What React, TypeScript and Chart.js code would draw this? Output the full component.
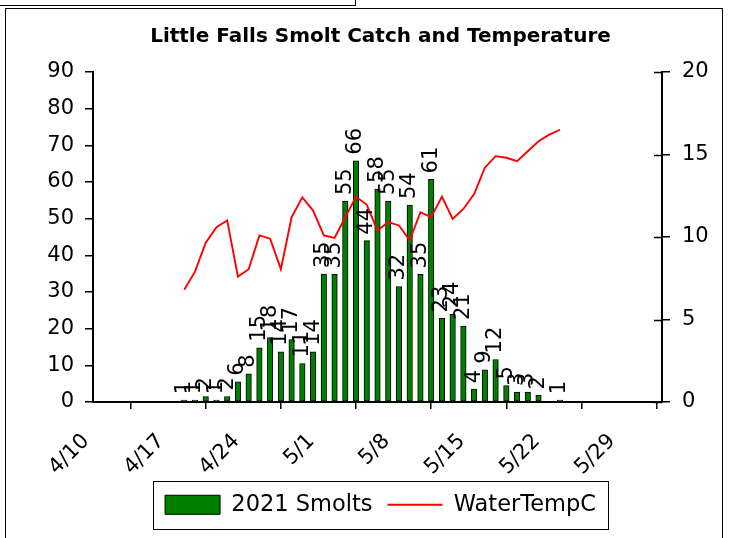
import React, { useEffect, useRef } from "react";
import { Chart, registerables } from "chart.js";

Chart.register(...registerables);

const FONT = "'DejaVu Sans', 'Liberation Sans', Arial, sans-serif";

// ---- data ----
const titleText = "Little Falls Smolt Catch and Temperature";
const axisMinDay = 0; // 4/10
const axisMaxDay = 53; // 6/2
const xTickDays = [0, 7, 14, 21, 28, 35, 42, 49];
const xTickLabels = ["4/10", "4/17", "4/24", "5/1", "5/8", "5/15", "5/22", "5/29"];

// day offsets from 4/10
const smoltDays = [8, 9, 10, 11, 12, 13, 14, 15, 16, 17, 18, 19, 20, 21, 22, 23, 24, 25, 26, 27, 28, 29, 30, 31, 32, 33, 34, 35, 36, 37, 38, 39, 40, 41, 43];
const smoltCounts = [0.5, 0.5, 1.5, 0.5, 1.5, 5.5, 7.7, 14.8, 17.6, 13.7, 17, 10.5, 13.7, 34.9, 34.8, 54.8, 65.8, 44, 58.1, 54.8, 31.5, 53.7, 34.8, 60.7, 22.8, 23.9, 20.7, 3.5, 8.8, 11.6, 4.5, 2.7, 2.7, 1.8, 0.5];

const tempDays = [8, 9, 10, 11, 12, 13, 14, 15, 16, 17, 18, 19, 20, 21, 22, 23, 24, 25, 26, 27, 28, 29, 30, 31, 32, 33, 34, 35, 36, 37, 38, 39, 40, 41, 42, 43];
const waterTempC = [6.8, 7.9, 9.65, 10.6, 11.0, 7.6, 8.05, 10.1, 9.9, 8.05, 11.2, 12.4, 11.6, 10.1, 9.95, 11.2, 12.45, 11.95, 10.4, 10.9, 10.7, 9.8, 11.5, 11.2, 12.45, 11.1, 11.7, 12.6, 14.2, 14.9, 14.8, 14.6, 15.2, 15.8, 16.2, 16.5];

const countAxisMax = 90;
const countAxisStep = 10;
const tempAxisMax = 20;
const tempAxisStep = 5;

// ---- layout ----
const W = 733;
const H = 538;
const PAD_LEFT = 28;
const PLOT_LEFT = 93;
const PLOT_RIGHT = 662;
const PLOT_BOTTOM = 402;
const PAD_BOTTOM = 12;

const barLabelPlugin = {
  id: "barLabels",
  afterDatasetsDraw(chart: any) {
    const meta = chart.getDatasetMeta(0);
    const ctx = chart.ctx;
    ctx.save();
    ctx.font = `21px ${FONT}`;
    ctx.fillStyle = "#000";
    ctx.textAlign = "left";
    ctx.textBaseline = "middle";
    meta.data.forEach((el: any, i: number) => {
      const { x, y } = el.getProps(["x", "y"], true);
      ctx.save();
      ctx.translate(x, y - 6);
      ctx.rotate(-Math.PI / 2);
      ctx.fillText(String(Math.round(smoltCounts[i])), 0, 0);
      ctx.restore();
    });
    ctx.restore();
  },
};

const rightTicksPlugin = {
  id: "rightInnerTicks",
  afterDraw(chart: any) {
    const s = chart.scales.y1;
    const ctx = chart.ctx;
    ctx.save();
    ctx.strokeStyle = "#000";
    ctx.lineWidth = 1.5;
    s.ticks.forEach((t: any) => {
      const y = Math.round(s.getPixelForValue(t.value)) + 0.5;
      ctx.beginPath();
      ctx.moveTo(s.left - 8, y);
      ctx.lineTo(s.left, y);
      ctx.stroke();
    });
    ctx.restore();
  },
};

const legendBoxPlugin = {
  id: "legendBox",
  afterDraw(chart: any) {
    const lg = chart.legend;
    if (!lg || !lg.legendHitBoxes || !lg.legendHitBoxes.length) return;
    const hb = lg.legendHitBoxes;
    const left = Math.min(...hb.map((h: any) => h.left)) - 12;
    const right = Math.max(...hb.map((h: any) => h.left + h.width)) + 12;
    const cy = hb[0].top + hb[0].height / 2;
    const ctx = chart.ctx;
    ctx.save();
    ctx.strokeStyle = "#000";
    ctx.lineWidth = 1;
    ctx.strokeRect(Math.round(left) + 0.5, Math.round(cy - 24) + 0.5, Math.round(right - left), 48);
    ctx.restore();
  },
};

export default function App() {
  const ref = useRef<HTMLCanvasElement | null>(null);

  useEffect(() => {
    const canvas = ref.current;
    if (!canvas) return;
    const tickFont = { family: FONT, size: 21 };
    const chart = new Chart(canvas, {
      type: "bar",
      data: {
        datasets: [
          {
            type: "bar",
            label: "2021 Smolts",
            data: smoltDays.map((d, i) => ({ x: d + 0.5, y: smoltCounts[i] })),
            backgroundColor: "#008000",
            borderColor: "#000000",
            borderWidth: 1,
            borderSkipped: false,
            barThickness: 5.5,
            xAxisID: "x",
            yAxisID: "y",
            order: 2,
          } as any,
          {
            type: "line",
            label: "WaterTempC",
            data: tempDays.map((d, i) => ({ x: d + 0.5, y: waterTempC[i] })),
            borderColor: "#ff0000",
            backgroundColor: "#ff0000",
            borderWidth: 1.9,
            pointRadius: 0,
            tension: 0,
            fill: false,
            xAxisID: "x",
            yAxisID: "y1",
            order: 1,
          } as any,
        ],
      },
      options: {
        responsive: false,
        maintainAspectRatio: false,
        animation: false,
        layout: { padding: { left: PAD_LEFT, right: 0, top: 0, bottom: PAD_BOTTOM } },
        scales: {
          x: {
            type: "linear",
            min: axisMinDay,
            max: axisMaxDay,
            offset: false,
            grid: { display: true, drawOnChartArea: false, drawTicks: true, tickLength: 7, color: "#000", lineWidth: 1.5 },
            border: { display: true, color: "#000", width: 2 },
            ticks: {
              stepSize: 7,
              includeBounds: false,
              autoSkip: false,
              maxRotation: 45,
              minRotation: 45,
              font: tickFont,
              color: "#000",
              padding: 20,
              labelOffset: -7,
              callback: (v: any) => {
                const idx = xTickDays.indexOf(Number(v));
                return idx >= 0 ? xTickLabels[idx] : "";
              },
            },
            afterFit: (scale: any) => {
              const lgH = scale.chart.legend ? scale.chart.legend.height : 0;
              scale.height = H - PAD_BOTTOM - lgH - PLOT_BOTTOM;
            },
          },
          y: {
            type: "linear",
            position: "left",
            min: 0,
            max: countAxisMax,
            grid: { display: true, drawOnChartArea: false, drawTicks: true, tickLength: 8, color: "#000", lineWidth: 1.5 },
            border: { display: true, color: "#000", width: 2 },
            ticks: { stepSize: countAxisStep, font: tickFont, color: "#000", padding: 11 },
            afterFit: (scale: any) => {
              scale.width = PLOT_LEFT - PAD_LEFT;
            },
          },
          y1: {
            type: "linear",
            position: "right",
            min: 0,
            max: tempAxisMax,
            grid: { display: true, drawOnChartArea: false, drawTicks: true, tickLength: 8, color: "#000", lineWidth: 1.5 },
            border: { display: true, color: "#000", width: 2 },
            ticks: { stepSize: tempAxisStep, font: tickFont, color: "#000", padding: 12 },
            afterFit: (scale: any) => {
              scale.width = W - PLOT_RIGHT;
            },
          },
        },
        plugins: {
          title: {
            display: true,
            text: titleText,
            color: "#000",
            font: { family: FONT, size: 20, weight: "bold" },
            padding: { top: 25, bottom: 23 },
          },
          legend: {
            display: true,
            position: "bottom",
            labels: {
              usePointStyle: true,
              pointStyleWidth: 55,
              boxHeight: 19,
              padding: 15,
              color: "#000",
              font: { family: FONT, size: 22.5 },
              generateLabels: () => [
                { text: "2021 Smolts", fillStyle: "#008000", strokeStyle: "#000", lineWidth: 1, pointStyle: "rect", datasetIndex: 0, hidden: false, fontColor: "#000" } as any,
                { text: "WaterTempC", fillStyle: "#ff0000", strokeStyle: "#ff0000", lineWidth: 1.9, pointStyle: "line", datasetIndex: 1, hidden: false, fontColor: "#000" } as any,
              ],
            },
          },
          tooltip: { enabled: false },
        },
      } as any,
      plugins: [barLabelPlugin, rightTicksPlugin, legendBoxPlugin],
    });
    return () => chart.destroy();
  }, []);

  return (
    <div style={{ position: "fixed", left: 0, top: 0, width: W, height: H, overflow: "hidden", background: "#fff" }}>
      <canvas ref={ref} width={W} height={H} style={{ position: "absolute", left: 0, top: 0, width: W, height: H }} />
      <div style={{ position: "absolute", left: 5, top: 8, width: 716, height: 600, border: "1px solid #000", pointerEvents: "none" }} />
      <div style={{ position: "absolute", left: 0, top: 5, width: 355, height: 0, borderTop: "1px solid #000" }} />
      <div style={{ position: "absolute", left: 355, top: 0, width: 0, height: 6, borderLeft: "1px solid #000" }} />
    </div>
  );
}
